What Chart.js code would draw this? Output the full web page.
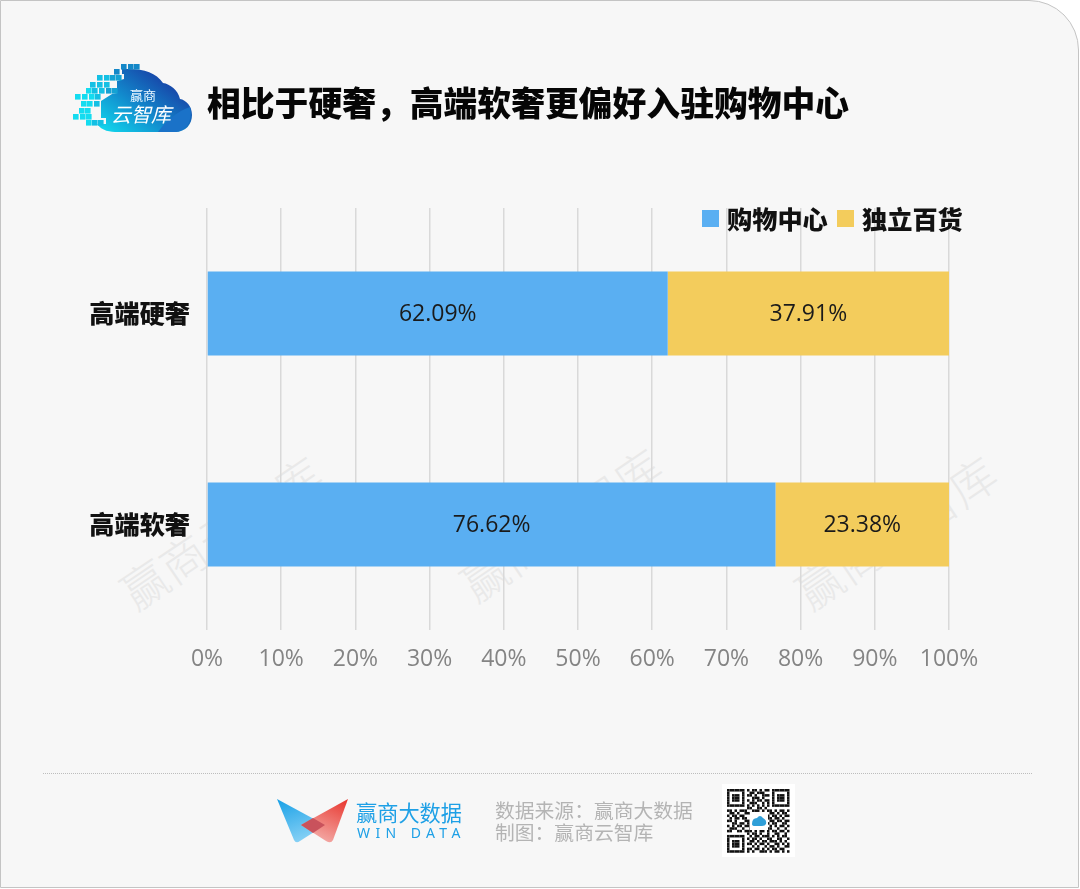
<!DOCTYPE html>
<html lang="zh">
<head>
<meta charset="utf-8">
<script src="https://cdn.jsdelivr.net/npm/chart.js@4"></script>
<style>
html,body{margin:0;padding:0;background:#fff;width:1080px;height:889px;overflow:hidden}
#card{position:absolute;left:0;top:0;width:1077px;height:886px;background:#f7f7f7;border:1.5px solid #c4c4c4;border-top-right-radius:50px;box-sizing:content-box;overflow:hidden}
#page{position:absolute;left:0;top:0;width:1080px;height:889px;font-family:"Noto Sans CJK SC","Noto Sans",sans-serif}
#page div{position:absolute;white-space:nowrap}
canvas{position:absolute;left:0;top:0}
.wm{color:#e9e9e9;font-size:46px;line-height:46px;transform:translate(-50%,-50%) rotate(-34deg);font-weight:300}
#title{left:207px;top:77px;font-size:33.8px;line-height:50px;font-weight:900;color:#060606}
.lg-box{width:17px;height:17px;top:210px}
.lg-text{top:200px;font-size:25.2px;line-height:36px;font-weight:900;color:#111}
#rule{left:43px;top:773px;width:989px;border-top:1px dotted #bdbdbd}
.src{font-size:19.8px;line-height:24px;color:#b4b4b4}
#brand{left:356px;top:797px;font-size:21.2px;line-height:30px;color:#1ea0e6}
#brand2{left:357px;top:825px;font-size:14px;line-height:16px;color:#1ea0e6;letter-spacing:5.4px;font-family:"Noto Sans",sans-serif}
svg{position:absolute}
</style>
</head>
<body>
<div id="card"></div>
<div id="page">
  <div class="wm" style="left:220px;top:531px">赢商云智库</div>
  <div class="wm" style="left:560px;top:523px">赢商云智库</div>
  <div class="wm" style="left:895px;top:531px">赢商云智库</div>
  <canvas id="c" width="1080" height="889"></canvas>

  <svg style="left:70px;top:58px" width="125" height="80" viewBox="70 58 125 80">
    <defs><linearGradient id="cg" x1="0" y1="1" x2="1" y2="0.1"><stop offset="0" stop-color="#12e0f0"/><stop offset=".45" stop-color="#1288cc"/><stop offset="1" stop-color="#1a2496"/></linearGradient></defs>
    <path d="M97 124 C102 131 110 132 118 132 L175 132 C186 132 192 124 192 115 C192 106 186 100 180 99 C178 90 170 84 163 83 C156 73 145 69 128 69 L122 69 L122 74 L124 74 L124 79 L117 81 L117 93 L112 94 L101 101 L101 118 L106 118 L106 124 Z" fill="url(#cg)"/>
    <path d="M158 132 C165 122 176 112 190 107 C193 118 188 130 176 132 Z" fill="#1a72c8"/>
    <g id="dots"></g>
    <text x="143" y="100" font-size="13" fill="#e8f6ff" text-anchor="middle" font-family="Noto Sans CJK SC">赢商</text>
    <text x="141" y="122" font-size="20" fill="#fff" text-anchor="middle" font-style="italic" font-family="Noto Sans CJK SC">云智库</text>
  </svg>
  <div id="title"></div>
  <div id="legend"></div>
  <div id="rule"></div>

  <svg style="left:270px;top:790px" width="90" height="60" viewBox="270 790 90 60">
    <defs>
      <linearGradient id="lb" x1="0" y1="0" x2=".4" y2="1"><stop offset="0" stop-color="#18a0e6"/><stop offset="1" stop-color="#85d0f5"/></linearGradient>
      <linearGradient id="lr" x1="1" y1="0" x2=".5" y2="1"><stop offset="0" stop-color="#e8342c"/><stop offset="1" stop-color="#f3a8a4"/></linearGradient>
    </defs>
    <path d="M277 799 L325 825 L300 841 Q296 844 294 840 Z" fill="url(#lb)"/>
    <path d="M348 799 L301 825 L326 841 Q331 844 333 840 Z" fill="url(#lr)"/>
    <path d="M301 825 L313 818 L325 825 L313 833 Z" fill="#c9525c"/>
  </svg>
  <div id="brand">赢商大数据</div>
  <div id="brand2">WIN DATA</div>
  <div class="src" style="left:495px;top:798px">数据来源：赢商大数据</div>
  <div class="src" style="left:495px;top:820px">制图：赢商云智库</div>
  <svg id="qr" style="left:722px;top:784px" width="73" height="73" viewBox="0 0 73 73"></svg>
</div>
<script>
// ---- chart data ----
const titleText = "相比于硬奢，高端软奢更偏好入驻购物中心";
const categories = ["高端硬奢", "高端软奢"];
const seriesNames = ["购物中心", "独立百货"];
const mallShare = [62.09, 76.62];
const deptShare = [37.91, 23.38];
const seriesColors = ["#5aaff2", "#f3cc5c"];
const xTicks = [0, 10, 20, 30, 40, 50, 60, 70, 80, 90, 100];

document.getElementById("title").textContent = titleText;

// HTML legend built from the series names and colours
const legendEl = document.getElementById("legend");
[[702, 727], [837, 862]].forEach((pos, i) => {
  const b = document.createElement("div");
  b.className = "lg-box"; b.style.left = pos[0] + "px"; b.style.background = seriesColors[i];
  const t = document.createElement("div");
  t.className = "lg-text"; t.style.left = pos[1] + "px"; t.textContent = seriesNames[i];
  legendEl.append(b, t);
});

const valueLabels = {
  id: "valueLabels",
  afterDatasetsDraw(chart) {
    const ctx = chart.ctx;
    ctx.save();
    ctx.font = '23px "Open Sans","Noto Sans",sans-serif';
    ctx.fillStyle = "#1a1a1a";
    ctx.textAlign = "center";
    ctx.textBaseline = "middle";
    chart.data.datasets.forEach((ds, i) => {
      chart.getDatasetMeta(i).data.forEach((bar, j) => {
        const p = bar.getProps(["x", "base", "y"], true);
        ctx.fillText(ds.data[j].toFixed(2) + "%", (p.x + p.base) / 2, p.y + 1);
      });
    });
    ctx.restore();
  }
};

new Chart(document.getElementById("c"), {
  type: "bar",
  data: {
    labels: categories,
    datasets: [
      { label: seriesNames[0], data: mallShare, backgroundColor: seriesColors[0] },
      { label: seriesNames[1], data: deptShare, backgroundColor: seriesColors[1] }
    ]
  },
  options: {
    indexAxis: "y",
    responsive: false,
    animation: false,
    devicePixelRatio: 1,
    barPercentage: 0.398,
    categoryPercentage: 1,
    layout: { padding: { left: 0, top: 208, right: 131, bottom: 0 } },
    plugins: { legend: { display: false }, tooltip: { enabled: false } },
    scales: {
      x: {
        stacked: true, min: 0, max: 100,
        afterBuildTicks(s) { s.ticks = xTicks.map(v => ({ value: v })); },
        afterFit(s) { s.height = 259; },
        grid: { color: "#d9d9d9", lineWidth: 1.5, drawTicks: false },
        border: { display: false },
        ticks: {
          maxRotation: 0, autoSkip: false, padding: 16,
          color: "#848484",
          font: { family: '"Open Sans","Noto Sans",sans-serif', size: 23 },
          callback: v => v + "%"
        }
      },
      y: {
        stacked: true,
        afterFit(s) { s.width = 207; },
        grid: { display: false, drawTicks: false },
        border: { display: false },
        ticks: {
          padding: 17,
          color: "#111",
          font: { family: '"Noto Sans CJK SC"', size: 25.2, weight: "900" }
        }
      }
    }
  },
  plugins: [valueLabels]
});

// ---- decorative logo pixels ----
const dotRows = [[64,[121,128,134]],[69,[114]],[75,[97,104,110,116]],[82,[90,97,104]],[88,[86,92,99,106,112]],[94,[75,82,89,95]],[101,[81,87,94]],[108,[79,85]],[114,[73,80,86]],[120,[86,92,98]]];
let dotSvg = "";
dotRows.forEach(([y, xs]) => xs.forEach(x => {
  const c = y < 72 ? "#1488c8" : x < 90 ? "#14dcf0" : x < 105 ? "#14c0e4" : "#14a2d4";
  dotSvg += `<rect x="${x}" y="${y}" width="5.6" height="5.6" fill="${c}"/>`;
}));
document.getElementById("dots").innerHTML = dotSvg;

// ---- decorative QR-style block ----
const qrRows = [
"1111111010110101101111111","1000001001101110001000001","1011101011010011101011101","1011101000111010001011101","1011101010101101101011101","1000001001110010101000001","1111111010101010101111111",
"0000000011001101000000000","1101011100111010110101101","0110100111010110011010110","1011011000100001101101011","0101101100000000110110100","1101000110000000011011011","0011011010000000101100110","1010110110000000010101101","0111001001000001110010010","1100110111010110101101101",
"0000000010110100100110010","1111111001011011101010110","1000001010110100110011001","1011101001101011011101010","1011101011010110100110101","1011101000101001011010011","1000001011011010101101100","1111111010100111010110101"];
const mx = 2.5, my = 2.55, ox = 5, oy = 5;
let q = '<rect width="73" height="73" fill="#fff"/>';
qrRows.forEach((r,y) => [...r].forEach((c,x) => { if (c==="1") q += `<rect x="${ox+x*mx}" y="${oy+y*my}" width="${mx}" height="${my}" fill="#111"/>`; }));
q += '<rect x="28" y="28" width="18" height="18" fill="#fff"/><path d="M30 40 Q30 34 35 34 Q38 30 41 34 Q45 36 44 40 Q43 42 40 42 L33 42 Q30 42 30 40Z" fill="#2f9fd8"/>';
document.getElementById("qr").innerHTML = q;
</script>
</body>
</html>
